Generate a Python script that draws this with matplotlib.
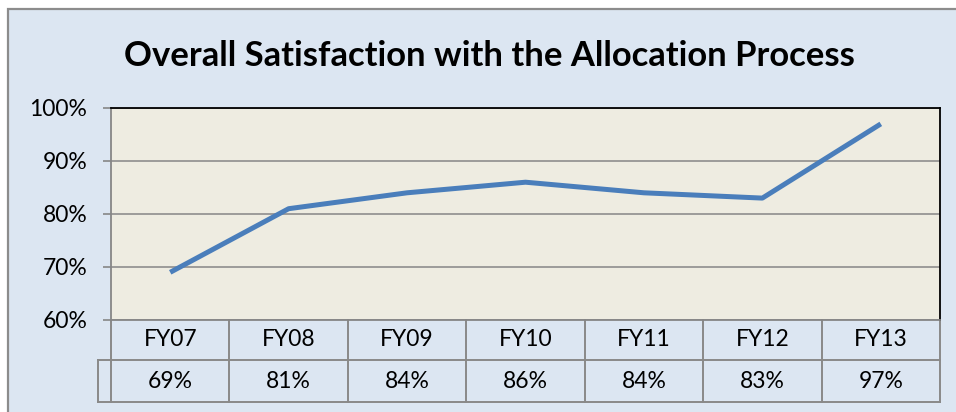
import matplotlib.pyplot as plt
from matplotlib.patches import Rectangle
from matplotlib.transforms import blended_transform_factory

# data
years = ["FY07", "FY08", "FY09", "FY10", "FY11", "FY12", "FY13"]
satisfaction = [69, 81, 84, 86, 84, 83, 97]
yticks = [60, 70, 80, 90, 100]

plt.rcParams['font.family'] = ['Lato', 'DejaVu Sans']

fig = plt.figure(figsize=(9.56, 4.12), dpi=100)
fig.patch.set_facecolor('white')

# chart area background with grey border (runs off the right/bottom edge)
W, H = 956, 412
fig.patches.append(Rectangle((8 / W, -0.1), 1.1, 1 - 9 / H + 0.1,
                             transform=fig.transFigure, facecolor='#dce6f2',
                             edgecolor='#8c8c8c', linewidth=1.6, zorder=-5))

ax = fig.add_axes([111 / W, (412 - 320) / H, 829 / W, 212 / H])
ax.set_facecolor('#eeece1')

x = list(range(len(years)))
ax.plot(x, satisfaction, color='#4a7ebb', linewidth=3.6, solid_capstyle='butt', zorder=3)

ax.set_xlim(-0.5, len(years) - 0.5)
ax.set_ylim(60, 100)
ax.set_yticks(yticks)
ax.set_yticklabels([f"{v}%" for v in yticks], fontsize=16.5)
ax.set_xticks([])
ax.tick_params(axis='y', length=6, width=1.2, color='#868686', pad=11)
ax.grid(axis='y', color='#868686', linewidth=1.1)
ax.set_axisbelow(True)

for s in ['top', 'right']:
    ax.spines[s].set_color('black')
    ax.spines[s].set_linewidth(1.3)
ax.spines['left'].set_color('#868686')
ax.spines['left'].set_linewidth(1.3)
ax.spines['bottom'].set_color('#868686')
ax.spines['bottom'].set_linewidth(1.3)

fig.text(489 / W, 1 - 56 / H, "Overall Satisfaction with the Allocation Process",
         ha='center', va='center', fontsize=24.9, fontweight='bold')

# data table under the plot
tr = blended_transform_factory(ax.transData, ax.transAxes)
r1 = -40 / 212
r2 = -82 / 212
xl = -0.5 - 13 / 118.4
xr = len(years) - 0.5
lc = '#898989'
lw = 1.4
for i in range(len(years) + 1):
    ax.plot([i - 0.5, i - 0.5], [0, r2], color=lc, lw=lw, transform=tr, clip_on=False)
ax.plot([xl, xr], [r1, r1], color=lc, lw=lw, transform=tr, clip_on=False)
ax.plot([xl, xr], [r2, r2], color=lc, lw=lw, transform=tr, clip_on=False)
ax.plot([xl, xl], [r1, r2], color=lc, lw=lw, transform=tr, clip_on=False)
for i, (yr, v) in enumerate(zip(years, satisfaction)):
    ax.text(i, r1 / 2, yr, ha='center', va='center', fontsize=16.5, transform=tr)
    ax.text(i, (r1 + r2) / 2, f"{v}%", ha='center', va='center', fontsize=16.5, transform=tr)

fig.savefig("out.png", dpi=100)
